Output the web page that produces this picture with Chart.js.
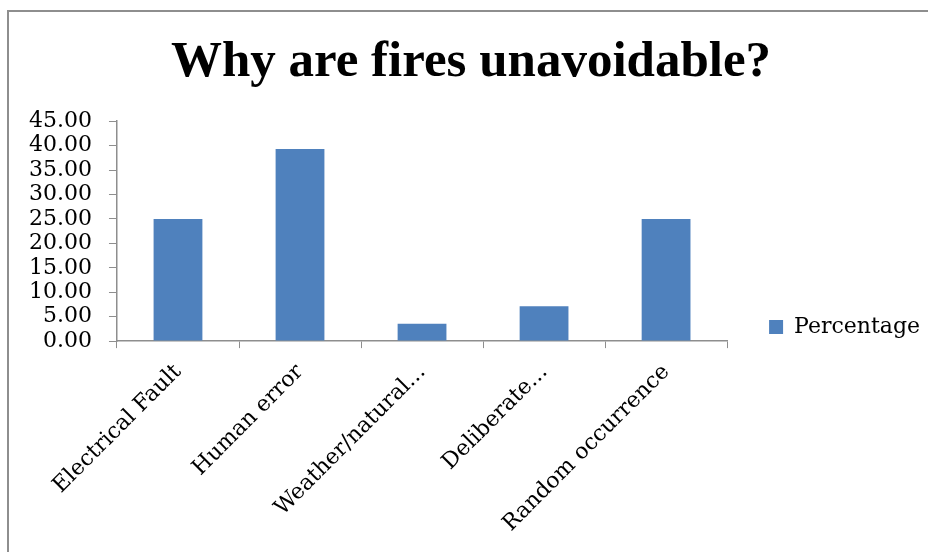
<!DOCTYPE html>
<html>
<head>
<meta charset="utf-8">
<script src="https://cdn.jsdelivr.net/npm/chart.js@4.4.0/dist/chart.umd.min.js"></script>
<style>
  html, body { margin: 0; padding: 0; background: #fff; }
  #wrap { position: relative; width: 928px; height: 552px; overflow: hidden; }
  #frame { position: absolute; left: 7px; top: 10px; right: -10px; bottom: -10px;
           border-left: 2px solid #8e8e8e; border-top: 2px solid #8e8e8e; }
  canvas { position: absolute; left: 0; top: 0; }
</style>
</head>
<body>
<div id="wrap">
  <div id="frame"></div>
  <canvas id="chart" width="930" height="552"></canvas>
</div>
<script>
const categories = ['Electrical Fault', 'Human error', 'Weather/natural...', 'Deliberate...', 'Random occurrence'];
const percentage = [25.00, 39.29, 3.57, 7.14, 25.00];
const yTicks = [0, 45, 5]; // min, max, step

const serif = 'DejaVu Serif';
const axisGrey = '#8e8e8e';

const ctx = document.getElementById('chart');

new Chart(ctx, {
  type: 'bar',
  data: {
    labels: categories,
    datasets: [
      {
        label: 'Percentage',
        data: percentage,
        backgroundColor: '#4F81BD',
        borderWidth: 0,
        barPercentage: 0.4,
        categoryPercentage: 1.0,
      },
    ],
  },
  options: {
    responsive: false,
    animation: false,
    layout: {
      padding: { left: 12, right: 0, top: 0, bottom: 4 },
    },
    plugins: {
      title: {
        display: true,
        text: 'Why are fires unavoidable?',
        color: '#000',
        font: { family: 'Liberation Serif', size: 51, weight: 'bold' },
        padding: { top: 32, bottom: 28 },
      },
      legend: {
        position: 'right',
        // empty title only pushes the single entry down level with the lower plot
        title: { display: true, text: '', font: { size: 10 }, padding: { top: 47, bottom: 47 } },
        labels: {
          color: '#000',
          font: { family: serif, size: 22 },
          boxWidth: 14,
          boxHeight: 14,
          padding: 42,
        },
      },
      tooltip: { enabled: false },
    },
    scales: {
      x: {
        grid: {
          display: true,
          offset: true,
          drawOnChartArea: false,
          drawTicks: true,
          tickLength: 7,
          color: axisGrey,
        },
        border: { color: axisGrey, width: 1.5 },
        ticks: {
          color: '#000',
          font: { family: serif, size: 22 },
          minRotation: 45,
          maxRotation: 45,
          autoSkip: false,
          padding: 11,
        },
      },
      y: {
        min: yTicks[0],
        max: yTicks[1],
        grid: {
          drawOnChartArea: false,
          drawTicks: true,
          tickLength: 8,
          color: axisGrey,
        },
        border: { color: axisGrey, width: 1.5 },
        ticks: {
          stepSize: yTicks[2],
          autoSkip: false,
          color: '#000',
          font: { family: serif, size: 22, lineHeight: 1 },
          padding: 17,
          callback: (v) => Number(v).toFixed(2),
        },
      },
    },
  },
});
</script>
</body>
</html>
